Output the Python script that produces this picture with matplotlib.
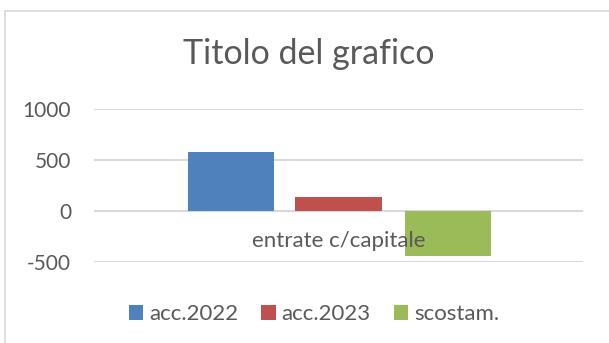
import matplotlib.pyplot as plt
from matplotlib.lines import Line2D

# dati del grafico
categoria = "entrate c/capitale"
serie = ["acc.2022", "acc.2023", "scostam."]
valori = [575, 134, -441]
colori = ["#4F81BD", "#C0504D", "#9BBB59"]
yticks = [-500, 0, 500, 1000]

plt.rcParams['font.family'] = ['Lato', 'DejaVu Sans']
testo = "#595959"

fig = plt.figure(figsize=(6.09, 3.43), dpi=100)
ax = fig.add_axes([94 / 609, 1 - 261.7 / 343, 489 / 609, 152.7 / 343])

larghezza = 0.176
offset = [-0.22, 0.0, 0.224]
for nome, v, c, dx in zip(serie, valori, colori, offset):
    ax.bar(dx, v, width=larghezza, color=c, label=nome, zorder=2)

ax.set_xlim(-0.5, 0.5)
ax.set_ylim(-500, 1000)
ax.set_yticks(yticks)
ax.set_yticklabels([str(t) for t in yticks], fontsize=15, color=testo)
ax.set_xticks([])
ax.tick_params(axis='y', length=0, pad=16.5)
ax.grid(axis='y', color="#D9D9D9", linewidth=1.5, zorder=0)
for s in ax.spines.values():
    s.set_visible(False)

# etichetta categoria sopra le barre
ax.text(0, -300, categoria, ha='center', va='center',
        fontsize=16, color=testo, zorder=3)

fig.text(309 / 609, 1 - 54 / 343, "Titolo del grafico", ha='center', va='center',
         fontsize=24.5, color=testo)

# bordo dell'area del grafico
fig.add_artist(Line2D([5 / 609, 5 / 609], [0, 1 - 10.5 / 343], color="#D9D9D9", lw=1.2,
                      transform=fig.transFigure))
fig.add_artist(Line2D([5 / 609, 1], [1 - 10.5 / 343, 1 - 10.5 / 343], color="#D9D9D9", lw=1.2,
                      transform=fig.transFigure))

ax.legend(loc='center', bbox_to_anchor=(314 / 609, 1 - 314 / 343),
          bbox_transform=fig.transFigure, ncol=3, frameon=False,
          fontsize=16, labelcolor=testo, handlelength=0.65, handleheight=0.65,
          handletextpad=0.25, columnspacing=1.05, borderpad=0)

fig.savefig("out.png", dpi=100, facecolor="white")
